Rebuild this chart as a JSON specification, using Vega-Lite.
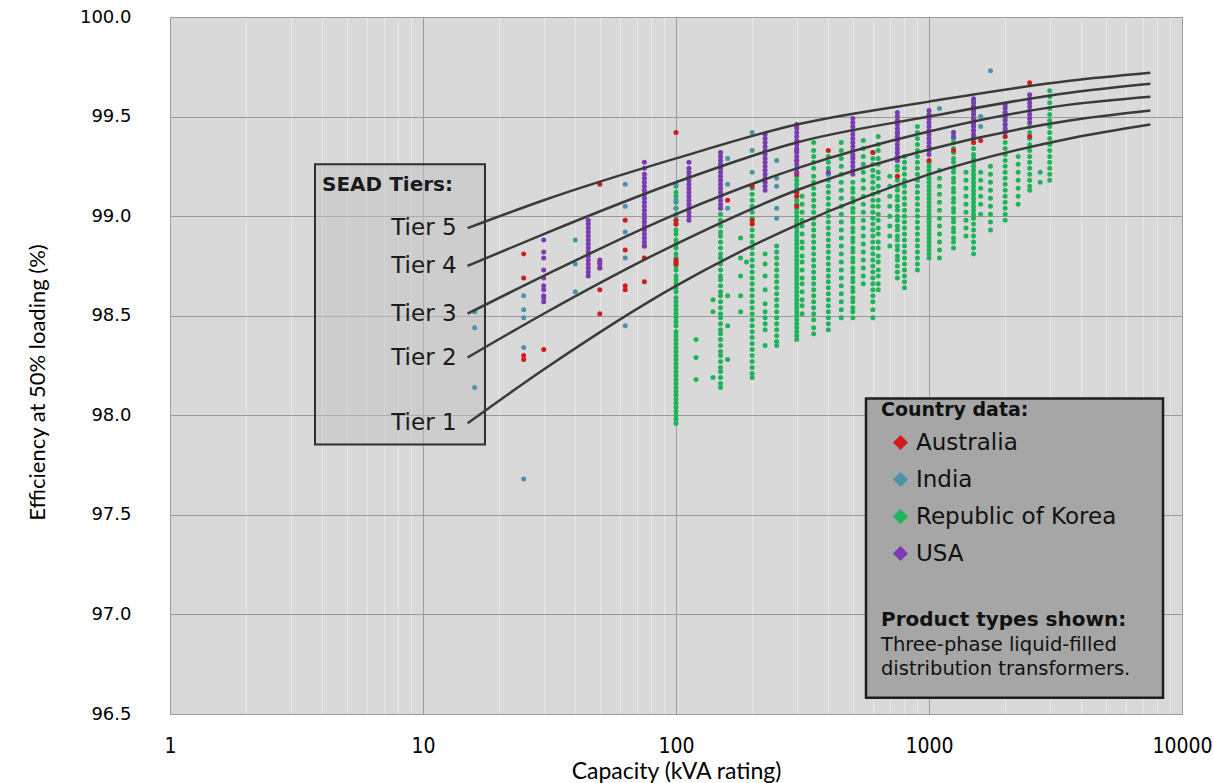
{
  "$schema": "https://vega.github.io/schema/vega-lite/v6.json",
  "width": 1012,
  "height": 697,
  "autosize": {"type": "none"},
  "padding": {"left": 170, "top": 17, "right": 31, "bottom": 69},
  "background": "#ffffff",
  "config": {
    "view": {"fill": "#d9d9d9", "stroke": "#a0a0a0"},
    "font": "DejaVu Sans"
  },
  "datasets": {
    "countries": [
      {"c": "A", "country": "Australia"},
      {"c": "I", "country": "India"},
      {"c": "K", "country": "Republic of Korea"},
      {"c": "U", "country": "USA"}
    ],
    "tiers": [
      {"tier": "Tier 5", "k": 15, "e": 98.94}, {"tier": "Tier 5", "k": 30, "e": 99.08}, {"tier": "Tier 5", "k": 100, "e": 99.29}, {"tier": "Tier 5", "k": 300, "e": 99.46}, {"tier": "Tier 5", "k": 1000, "e": 99.575}, {"tier": "Tier 5", "k": 3600, "e": 99.68}, {"tier": "Tier 5", "k": 7500, "e": 99.72},
      {"tier": "Tier 4", "k": 15, "e": 98.75}, {"tier": "Tier 4", "k": 30, "e": 98.91}, {"tier": "Tier 4", "k": 100, "e": 99.17}, {"tier": "Tier 4", "k": 300, "e": 99.37}, {"tier": "Tier 4", "k": 1000, "e": 99.50}, {"tier": "Tier 4", "k": 3600, "e": 99.62}, {"tier": "Tier 4", "k": 7500, "e": 99.665},
      {"tier": "Tier 3", "k": 15, "e": 98.51}, {"tier": "Tier 3", "k": 30, "e": 98.70}, {"tier": "Tier 3", "k": 100, "e": 99.01}, {"tier": "Tier 3", "k": 300, "e": 99.24}, {"tier": "Tier 3", "k": 1000, "e": 99.425}, {"tier": "Tier 3", "k": 3600, "e": 99.56}, {"tier": "Tier 3", "k": 7500, "e": 99.60},
      {"tier": "Tier 2", "k": 15, "e": 98.29}, {"tier": "Tier 2", "k": 30, "e": 98.51}, {"tier": "Tier 2", "k": 100, "e": 98.86}, {"tier": "Tier 2", "k": 300, "e": 99.13}, {"tier": "Tier 2", "k": 1000, "e": 99.335}, {"tier": "Tier 2", "k": 3600, "e": 99.48}, {"tier": "Tier 2", "k": 7500, "e": 99.53},
      {"tier": "Tier 1", "k": 15, "e": 97.96}, {"tier": "Tier 1", "k": 30, "e": 98.23}, {"tier": "Tier 1", "k": 100, "e": 98.65}, {"tier": "Tier 1", "k": 300, "e": 98.955}, {"tier": "Tier 1", "k": 1000, "e": 99.21}, {"tier": "Tier 1", "k": 3600, "e": 99.39}, {"tier": "Tier 1", "k": 7500, "e": 99.46}
    ],
    "units": [
      {"c":"K","k":100,"e":99.15},{"c":"K","k":100,"e":99.12},{"c":"K","k":100,"e":99.10},{"c":"K","k":100,"e":99.07},{"c":"K","k":100,"e":99.04},{"c":"K","k":100,"e":99.01},{"c":"K","k":100,"e":98.98},{"c":"K","k":100,"e":98.96},{"c":"K","k":100,"e":98.93},{"c":"K","k":100,"e":98.91},{"c":"K","k":100,"e":98.88},{"c":"K","k":100,"e":98.86},{"c":"K","k":100,"e":98.84},{"c":"K","k":100,"e":98.81},{"c":"K","k":100,"e":98.79},{"c":"K","k":100,"e":98.77},{"c":"K","k":100,"e":98.75},{"c":"K","k":100,"e":98.73},{"c":"K","k":100,"e":98.70},{"c":"K","k":100,"e":98.68},{"c":"K","k":100,"e":98.66},{"c":"K","k":100,"e":98.64},{"c":"K","k":100,"e":98.62},{"c":"K","k":100,"e":98.59},{"c":"K","k":100,"e":98.57},{"c":"K","k":100,"e":98.55},{"c":"K","k":100,"e":98.53},{"c":"K","k":100,"e":98.51},{"c":"K","k":100,"e":98.49},{"c":"K","k":100,"e":98.47},{"c":"K","k":100,"e":98.45},{"c":"K","k":100,"e":98.42},{"c":"K","k":100,"e":98.40},{"c":"K","k":100,"e":98.38},{"c":"K","k":100,"e":98.36},{"c":"K","k":100,"e":98.34},{"c":"K","k":100,"e":98.32},{"c":"K","k":100,"e":98.30},{"c":"K","k":100,"e":98.28},{"c":"K","k":100,"e":98.26},{"c":"K","k":100,"e":98.24},{"c":"K","k":100,"e":98.22},{"c":"K","k":100,"e":98.20},{"c":"K","k":100,"e":98.18},{"c":"K","k":100,"e":98.16},{"c":"K","k":100,"e":98.14},{"c":"K","k":100,"e":98.12},{"c":"K","k":100,"e":98.10},{"c":"K","k":100,"e":98.08},{"c":"K","k":100,"e":98.06},{"c":"K","k":100,"e":98.04},{"c":"K","k":100,"e":98.02},{"c":"K","k":100,"e":98.00},{"c":"K","k":100,"e":97.98},{"c":"K","k":100,"e":97.96},
      {"c":"K","k":120,"e":98.38},{"c":"K","k":120,"e":98.29},{"c":"K","k":120,"e":98.18},
      {"c":"K","k":140,"e":98.58},{"c":"K","k":140,"e":98.52},{"c":"K","k":140,"e":98.19},
      {"c":"K","k":150,"e":99.04},{"c":"K","k":150,"e":99.01},{"c":"K","k":150,"e":98.98},{"c":"K","k":150,"e":98.95},{"c":"K","k":150,"e":98.92},{"c":"K","k":150,"e":98.90},{"c":"K","k":150,"e":98.87},{"c":"K","k":150,"e":98.84},{"c":"K","k":150,"e":98.81},{"c":"K","k":150,"e":98.79},{"c":"K","k":150,"e":98.76},{"c":"K","k":150,"e":98.73},{"c":"K","k":150,"e":98.70},{"c":"K","k":150,"e":98.68},{"c":"K","k":150,"e":98.65},{"c":"K","k":150,"e":98.62},{"c":"K","k":150,"e":98.60},{"c":"K","k":150,"e":98.57},{"c":"K","k":150,"e":98.54},{"c":"K","k":150,"e":98.51},{"c":"K","k":150,"e":98.49},{"c":"K","k":150,"e":98.46},{"c":"K","k":150,"e":98.43},{"c":"K","k":150,"e":98.41},{"c":"K","k":150,"e":98.38},{"c":"K","k":150,"e":98.35},{"c":"K","k":150,"e":98.32},{"c":"K","k":150,"e":98.30},{"c":"K","k":150,"e":98.27},{"c":"K","k":150,"e":98.24},{"c":"K","k":150,"e":98.22},{"c":"K","k":150,"e":98.19},{"c":"K","k":150,"e":98.16},{"c":"K","k":150,"e":98.14},
      {"c":"K","k":160,"e":98.60},{"c":"K","k":160,"e":98.45},{"c":"K","k":160,"e":98.28},
      {"c":"K","k":180,"e":98.89},{"c":"K","k":180,"e":98.79},{"c":"K","k":180,"e":98.70},{"c":"K","k":180,"e":98.60},{"c":"K","k":180,"e":98.52},
      {"c":"K","k":190,"e":98.77},
      {"c":"K","k":200,"e":99.14},{"c":"K","k":200,"e":99.11},{"c":"K","k":200,"e":99.08},{"c":"K","k":200,"e":99.05},{"c":"K","k":200,"e":99.02},{"c":"K","k":200,"e":98.99},{"c":"K","k":200,"e":98.96},{"c":"K","k":200,"e":98.93},{"c":"K","k":200,"e":98.90},{"c":"K","k":200,"e":98.87},{"c":"K","k":200,"e":98.84},{"c":"K","k":200,"e":98.81},{"c":"K","k":200,"e":98.78},{"c":"K","k":200,"e":98.75},{"c":"K","k":200,"e":98.72},{"c":"K","k":200,"e":98.69},{"c":"K","k":200,"e":98.66},{"c":"K","k":200,"e":98.63},{"c":"K","k":200,"e":98.60},{"c":"K","k":200,"e":98.57},{"c":"K","k":200,"e":98.54},{"c":"K","k":200,"e":98.51},{"c":"K","k":200,"e":98.48},{"c":"K","k":200,"e":98.45},{"c":"K","k":200,"e":98.42},{"c":"K","k":200,"e":98.39},{"c":"K","k":200,"e":98.36},{"c":"K","k":200,"e":98.33},{"c":"K","k":200,"e":98.30},{"c":"K","k":200,"e":98.27},{"c":"K","k":200,"e":98.24},{"c":"K","k":200,"e":98.21},{"c":"K","k":200,"e":98.19},
      {"c":"K","k":225,"e":98.81},{"c":"K","k":225,"e":98.76},{"c":"K","k":225,"e":98.70},{"c":"K","k":225,"e":98.63},{"c":"K","k":225,"e":98.56},{"c":"K","k":225,"e":98.52},{"c":"K","k":225,"e":98.49},{"c":"K","k":225,"e":98.46},{"c":"K","k":225,"e":98.43},{"c":"K","k":225,"e":98.35},
      {"c":"K","k":250,"e":98.85},{"c":"K","k":250,"e":98.82},{"c":"K","k":250,"e":98.79},{"c":"K","k":250,"e":98.76},{"c":"K","k":250,"e":98.73},{"c":"K","k":250,"e":98.70},{"c":"K","k":250,"e":98.67},{"c":"K","k":250,"e":98.64},{"c":"K","k":250,"e":98.61},{"c":"K","k":250,"e":98.58},{"c":"K","k":250,"e":98.55},{"c":"K","k":250,"e":98.52},{"c":"K","k":250,"e":98.49},{"c":"K","k":250,"e":98.46},{"c":"K","k":250,"e":98.43},{"c":"K","k":250,"e":98.40},{"c":"K","k":250,"e":98.37},{"c":"K","k":250,"e":98.35},
      {"c":"K","k":300,"e":99.20},{"c":"K","k":300,"e":99.18},{"c":"K","k":300,"e":99.16},{"c":"K","k":300,"e":99.14},{"c":"K","k":300,"e":99.12},{"c":"K","k":300,"e":99.10},{"c":"K","k":300,"e":99.08},{"c":"K","k":300,"e":99.06},{"c":"K","k":300,"e":99.04},{"c":"K","k":300,"e":99.02},{"c":"K","k":300,"e":99.00},{"c":"K","k":300,"e":98.98},{"c":"K","k":300,"e":98.96},{"c":"K","k":300,"e":98.94},{"c":"K","k":300,"e":98.92},{"c":"K","k":300,"e":98.90},{"c":"K","k":300,"e":98.88},{"c":"K","k":300,"e":98.86},{"c":"K","k":300,"e":98.84},{"c":"K","k":300,"e":98.82},{"c":"K","k":300,"e":98.80},{"c":"K","k":300,"e":98.78},{"c":"K","k":300,"e":98.76},{"c":"K","k":300,"e":98.74},{"c":"K","k":300,"e":98.72},{"c":"K","k":300,"e":98.70},{"c":"K","k":300,"e":98.68},{"c":"K","k":300,"e":98.66},{"c":"K","k":300,"e":98.64},{"c":"K","k":300,"e":98.62},{"c":"K","k":300,"e":98.60},{"c":"K","k":300,"e":98.58},{"c":"K","k":300,"e":98.56},{"c":"K","k":300,"e":98.54},{"c":"K","k":300,"e":98.52},{"c":"K","k":300,"e":98.50},{"c":"K","k":300,"e":98.48},{"c":"K","k":300,"e":98.46},{"c":"K","k":300,"e":98.44},{"c":"K","k":300,"e":98.42},{"c":"K","k":300,"e":98.40},{"c":"K","k":300,"e":98.38},
      {"c":"K","k":315,"e":99.10},{"c":"K","k":315,"e":99.06},{"c":"K","k":315,"e":99.02},{"c":"K","k":315,"e":98.98},{"c":"K","k":315,"e":98.95},{"c":"K","k":315,"e":98.91},{"c":"K","k":315,"e":98.87},{"c":"K","k":315,"e":98.84},{"c":"K","k":315,"e":98.80},{"c":"K","k":315,"e":98.77},{"c":"K","k":315,"e":98.73},{"c":"K","k":315,"e":98.69},{"c":"K","k":315,"e":98.66},{"c":"K","k":315,"e":98.62},{"c":"K","k":315,"e":98.58},{"c":"K","k":315,"e":98.55},{"c":"K","k":315,"e":98.51},
      {"c":"K","k":350,"e":99.37},{"c":"K","k":350,"e":99.33},{"c":"K","k":350,"e":99.30},{"c":"K","k":350,"e":99.27},{"c":"K","k":350,"e":99.24},{"c":"K","k":350,"e":99.20},{"c":"K","k":350,"e":99.17},{"c":"K","k":350,"e":99.14},{"c":"K","k":350,"e":99.11},{"c":"K","k":350,"e":99.08},{"c":"K","k":350,"e":99.05},{"c":"K","k":350,"e":99.02},{"c":"K","k":350,"e":98.99},{"c":"K","k":350,"e":98.96},{"c":"K","k":350,"e":98.93},{"c":"K","k":350,"e":98.90},{"c":"K","k":350,"e":98.87},{"c":"K","k":350,"e":98.84},{"c":"K","k":350,"e":98.81},{"c":"K","k":350,"e":98.78},{"c":"K","k":350,"e":98.75},{"c":"K","k":350,"e":98.72},{"c":"K","k":350,"e":98.69},{"c":"K","k":350,"e":98.66},{"c":"K","k":350,"e":98.63},{"c":"K","k":350,"e":98.60},{"c":"K","k":350,"e":98.57},{"c":"K","k":350,"e":98.54},{"c":"K","k":350,"e":98.51},{"c":"K","k":350,"e":98.48},{"c":"K","k":350,"e":98.44},{"c":"K","k":350,"e":98.41},
      {"c":"K","k":400,"e":99.30},{"c":"K","k":400,"e":99.27},{"c":"K","k":400,"e":99.24},{"c":"K","k":400,"e":99.21},{"c":"K","k":400,"e":99.18},{"c":"K","k":400,"e":99.15},{"c":"K","k":400,"e":99.12},{"c":"K","k":400,"e":99.09},{"c":"K","k":400,"e":99.06},{"c":"K","k":400,"e":99.03},{"c":"K","k":400,"e":99.00},{"c":"K","k":400,"e":98.97},{"c":"K","k":400,"e":98.94},{"c":"K","k":400,"e":98.91},{"c":"K","k":400,"e":98.88},{"c":"K","k":400,"e":98.85},{"c":"K","k":400,"e":98.82},{"c":"K","k":400,"e":98.79},{"c":"K","k":400,"e":98.76},{"c":"K","k":400,"e":98.73},{"c":"K","k":400,"e":98.70},{"c":"K","k":400,"e":98.67},{"c":"K","k":400,"e":98.64},{"c":"K","k":400,"e":98.61},{"c":"K","k":400,"e":98.58},{"c":"K","k":400,"e":98.55},{"c":"K","k":400,"e":98.52},{"c":"K","k":400,"e":98.49},{"c":"K","k":400,"e":98.46},{"c":"K","k":400,"e":98.43},
      {"c":"K","k":450,"e":99.37},{"c":"K","k":450,"e":99.33},{"c":"K","k":450,"e":99.29},{"c":"K","k":450,"e":99.25},{"c":"K","k":450,"e":99.21},{"c":"K","k":450,"e":99.17},{"c":"K","k":450,"e":99.13},{"c":"K","k":450,"e":99.09},{"c":"K","k":450,"e":99.05},{"c":"K","k":450,"e":99.01},{"c":"K","k":450,"e":98.97},{"c":"K","k":450,"e":98.93},{"c":"K","k":450,"e":98.89},{"c":"K","k":450,"e":98.85},{"c":"K","k":450,"e":98.81},{"c":"K","k":450,"e":98.77},{"c":"K","k":450,"e":98.73},{"c":"K","k":450,"e":98.69},{"c":"K","k":450,"e":98.65},{"c":"K","k":450,"e":98.61},{"c":"K","k":450,"e":98.57},{"c":"K","k":450,"e":98.53},{"c":"K","k":450,"e":98.49},
      {"c":"K","k":500,"e":99.17},{"c":"K","k":500,"e":99.14},{"c":"K","k":500,"e":99.12},{"c":"K","k":500,"e":99.09},{"c":"K","k":500,"e":99.07},{"c":"K","k":500,"e":99.04},{"c":"K","k":500,"e":99.02},{"c":"K","k":500,"e":98.99},{"c":"K","k":500,"e":98.97},{"c":"K","k":500,"e":98.94},{"c":"K","k":500,"e":98.92},{"c":"K","k":500,"e":98.89},{"c":"K","k":500,"e":98.87},{"c":"K","k":500,"e":98.84},{"c":"K","k":500,"e":98.82},{"c":"K","k":500,"e":98.79},{"c":"K","k":500,"e":98.77},{"c":"K","k":500,"e":98.74},{"c":"K","k":500,"e":98.72},{"c":"K","k":500,"e":98.69},{"c":"K","k":500,"e":98.67},{"c":"K","k":500,"e":98.64},{"c":"K","k":500,"e":98.62},{"c":"K","k":500,"e":98.59},{"c":"K","k":500,"e":98.57},{"c":"K","k":500,"e":98.54},{"c":"K","k":500,"e":98.52},{"c":"K","k":500,"e":98.49},
      {"c":"K","k":550,"e":99.38},{"c":"K","k":550,"e":99.34},{"c":"K","k":550,"e":99.30},{"c":"K","k":550,"e":99.26},{"c":"K","k":550,"e":99.22},{"c":"K","k":550,"e":99.18},{"c":"K","k":550,"e":99.14},{"c":"K","k":550,"e":99.10},{"c":"K","k":550,"e":99.06},{"c":"K","k":550,"e":99.02},{"c":"K","k":550,"e":98.98},{"c":"K","k":550,"e":98.94},{"c":"K","k":550,"e":98.90},{"c":"K","k":550,"e":98.86},{"c":"K","k":550,"e":98.82},{"c":"K","k":550,"e":98.78},{"c":"K","k":550,"e":98.74},{"c":"K","k":550,"e":98.70},{"c":"K","k":550,"e":98.66},
      {"c":"K","k":600,"e":99.32},{"c":"K","k":600,"e":99.29},{"c":"K","k":600,"e":99.26},{"c":"K","k":600,"e":99.23},{"c":"K","k":600,"e":99.20},{"c":"K","k":600,"e":99.17},{"c":"K","k":600,"e":99.14},{"c":"K","k":600,"e":99.11},{"c":"K","k":600,"e":99.08},{"c":"K","k":600,"e":99.05},{"c":"K","k":600,"e":99.02},{"c":"K","k":600,"e":98.99},{"c":"K","k":600,"e":98.96},{"c":"K","k":600,"e":98.93},{"c":"K","k":600,"e":98.90},{"c":"K","k":600,"e":98.87},{"c":"K","k":600,"e":98.84},{"c":"K","k":600,"e":98.81},{"c":"K","k":600,"e":98.78},{"c":"K","k":600,"e":98.75},{"c":"K","k":600,"e":98.72},{"c":"K","k":600,"e":98.69},{"c":"K","k":600,"e":98.66},{"c":"K","k":600,"e":98.63},{"c":"K","k":600,"e":98.60},{"c":"K","k":600,"e":98.57},{"c":"K","k":600,"e":98.53},{"c":"K","k":600,"e":98.49},
      {"c":"K","k":630,"e":99.40},{"c":"K","k":630,"e":99.36},{"c":"K","k":630,"e":99.33},{"c":"K","k":630,"e":99.29},{"c":"K","k":630,"e":99.26},{"c":"K","k":630,"e":99.22},{"c":"K","k":630,"e":99.19},{"c":"K","k":630,"e":99.15},{"c":"K","k":630,"e":99.12},{"c":"K","k":630,"e":99.08},{"c":"K","k":630,"e":99.05},{"c":"K","k":630,"e":99.01},{"c":"K","k":630,"e":98.98},{"c":"K","k":630,"e":98.94},{"c":"K","k":630,"e":98.91},{"c":"K","k":630,"e":98.87},{"c":"K","k":630,"e":98.84},{"c":"K","k":630,"e":98.80},{"c":"K","k":630,"e":98.77},{"c":"K","k":630,"e":98.73},{"c":"K","k":630,"e":98.70},{"c":"K","k":630,"e":98.66},{"c":"K","k":630,"e":98.63},
      {"c":"K","k":700,"e":99.20},{"c":"K","k":700,"e":99.15},{"c":"K","k":700,"e":99.10},{"c":"K","k":700,"e":99.05},{"c":"K","k":700,"e":99.00},{"c":"K","k":700,"e":98.95},{"c":"K","k":700,"e":98.90},{"c":"K","k":700,"e":98.85},
      {"c":"K","k":750,"e":99.28},{"c":"K","k":750,"e":99.25},{"c":"K","k":750,"e":99.23},{"c":"K","k":750,"e":99.20},{"c":"K","k":750,"e":99.18},{"c":"K","k":750,"e":99.15},{"c":"K","k":750,"e":99.13},{"c":"K","k":750,"e":99.10},{"c":"K","k":750,"e":99.08},{"c":"K","k":750,"e":99.05},{"c":"K","k":750,"e":99.03},{"c":"K","k":750,"e":99.00},{"c":"K","k":750,"e":98.98},{"c":"K","k":750,"e":98.95},{"c":"K","k":750,"e":98.93},{"c":"K","k":750,"e":98.90},{"c":"K","k":750,"e":98.88},{"c":"K","k":750,"e":98.85},{"c":"K","k":750,"e":98.83},{"c":"K","k":750,"e":98.80},{"c":"K","k":750,"e":98.78},{"c":"K","k":750,"e":98.75},{"c":"K","k":750,"e":98.72},{"c":"K","k":750,"e":98.69},
      {"c":"K","k":800,"e":99.30},{"c":"K","k":800,"e":99.27},{"c":"K","k":800,"e":99.24},{"c":"K","k":800,"e":99.21},{"c":"K","k":800,"e":99.18},{"c":"K","k":800,"e":99.15},{"c":"K","k":800,"e":99.12},{"c":"K","k":800,"e":99.09},{"c":"K","k":800,"e":99.06},{"c":"K","k":800,"e":99.03},{"c":"K","k":800,"e":99.00},{"c":"K","k":800,"e":98.97},{"c":"K","k":800,"e":98.94},{"c":"K","k":800,"e":98.91},{"c":"K","k":800,"e":98.88},{"c":"K","k":800,"e":98.85},{"c":"K","k":800,"e":98.82},{"c":"K","k":800,"e":98.79},{"c":"K","k":800,"e":98.76},{"c":"K","k":800,"e":98.73},{"c":"K","k":800,"e":98.70},{"c":"K","k":800,"e":98.67},{"c":"K","k":800,"e":98.64},
      {"c":"K","k":900,"e":99.45},{"c":"K","k":900,"e":99.42},{"c":"K","k":900,"e":99.39},{"c":"K","k":900,"e":99.36},{"c":"K","k":900,"e":99.33},{"c":"K","k":900,"e":99.30},{"c":"K","k":900,"e":99.27},{"c":"K","k":900,"e":99.24},{"c":"K","k":900,"e":99.21},{"c":"K","k":900,"e":99.18},{"c":"K","k":900,"e":99.15},{"c":"K","k":900,"e":99.12},{"c":"K","k":900,"e":99.09},{"c":"K","k":900,"e":99.06},{"c":"K","k":900,"e":99.03},{"c":"K","k":900,"e":99.00},{"c":"K","k":900,"e":98.97},{"c":"K","k":900,"e":98.94},{"c":"K","k":900,"e":98.91},{"c":"K","k":900,"e":98.88},{"c":"K","k":900,"e":98.85},{"c":"K","k":900,"e":98.82},{"c":"K","k":900,"e":98.79},{"c":"K","k":900,"e":98.76},{"c":"K","k":900,"e":98.73},
      {"c":"K","k":1000,"e":99.27},{"c":"K","k":1000,"e":99.25},{"c":"K","k":1000,"e":99.23},{"c":"K","k":1000,"e":99.21},{"c":"K","k":1000,"e":99.19},{"c":"K","k":1000,"e":99.17},{"c":"K","k":1000,"e":99.15},{"c":"K","k":1000,"e":99.13},{"c":"K","k":1000,"e":99.11},{"c":"K","k":1000,"e":99.09},{"c":"K","k":1000,"e":99.07},{"c":"K","k":1000,"e":99.05},{"c":"K","k":1000,"e":99.03},{"c":"K","k":1000,"e":99.01},{"c":"K","k":1000,"e":98.99},{"c":"K","k":1000,"e":98.97},{"c":"K","k":1000,"e":98.95},{"c":"K","k":1000,"e":98.93},{"c":"K","k":1000,"e":98.91},{"c":"K","k":1000,"e":98.89},{"c":"K","k":1000,"e":98.87},{"c":"K","k":1000,"e":98.85},{"c":"K","k":1000,"e":98.83},{"c":"K","k":1000,"e":98.81},{"c":"K","k":1000,"e":98.79},
      {"c":"K","k":1100,"e":99.23},{"c":"K","k":1100,"e":99.19},{"c":"K","k":1100,"e":99.15},{"c":"K","k":1100,"e":99.11},{"c":"K","k":1100,"e":99.07},{"c":"K","k":1100,"e":99.03},{"c":"K","k":1100,"e":98.99},{"c":"K","k":1100,"e":98.95},{"c":"K","k":1100,"e":98.91},{"c":"K","k":1100,"e":98.87},{"c":"K","k":1100,"e":98.83},{"c":"K","k":1100,"e":98.79},
      {"c":"K","k":1250,"e":99.42},{"c":"K","k":1250,"e":99.39},{"c":"K","k":1250,"e":99.37},{"c":"K","k":1250,"e":99.34},{"c":"K","k":1250,"e":99.32},{"c":"K","k":1250,"e":99.29},{"c":"K","k":1250,"e":99.27},{"c":"K","k":1250,"e":99.24},{"c":"K","k":1250,"e":99.22},{"c":"K","k":1250,"e":99.19},{"c":"K","k":1250,"e":99.17},{"c":"K","k":1250,"e":99.14},{"c":"K","k":1250,"e":99.12},{"c":"K","k":1250,"e":99.09},{"c":"K","k":1250,"e":99.07},{"c":"K","k":1250,"e":99.04},{"c":"K","k":1250,"e":99.02},{"c":"K","k":1250,"e":98.99},{"c":"K","k":1250,"e":98.97},{"c":"K","k":1250,"e":98.94},{"c":"K","k":1250,"e":98.92},{"c":"K","k":1250,"e":98.89},{"c":"K","k":1250,"e":98.87},{"c":"K","k":1250,"e":98.84},
      {"c":"K","k":1400,"e":99.22},{"c":"K","k":1400,"e":99.18},{"c":"K","k":1400,"e":99.14},{"c":"K","k":1400,"e":99.10},{"c":"K","k":1400,"e":99.06},{"c":"K","k":1400,"e":99.02},{"c":"K","k":1400,"e":98.98},{"c":"K","k":1400,"e":98.94},{"c":"K","k":1400,"e":98.90},
      {"c":"K","k":1500,"e":99.58},{"c":"K","k":1500,"e":99.55},{"c":"K","k":1500,"e":99.52},{"c":"K","k":1500,"e":99.49},{"c":"K","k":1500,"e":99.46},{"c":"K","k":1500,"e":99.43},{"c":"K","k":1500,"e":99.40},{"c":"K","k":1500,"e":99.37},{"c":"K","k":1500,"e":99.34},{"c":"K","k":1500,"e":99.31},{"c":"K","k":1500,"e":99.29},{"c":"K","k":1500,"e":99.27},{"c":"K","k":1500,"e":99.25},{"c":"K","k":1500,"e":99.23},{"c":"K","k":1500,"e":99.21},{"c":"K","k":1500,"e":99.19},{"c":"K","k":1500,"e":99.17},{"c":"K","k":1500,"e":99.15},{"c":"K","k":1500,"e":99.13},{"c":"K","k":1500,"e":99.11},{"c":"K","k":1500,"e":99.09},{"c":"K","k":1500,"e":99.07},{"c":"K","k":1500,"e":99.05},{"c":"K","k":1500,"e":99.03},{"c":"K","k":1500,"e":99.01},{"c":"K","k":1500,"e":98.99},{"c":"K","k":1500,"e":98.96},{"c":"K","k":1500,"e":98.93},{"c":"K","k":1500,"e":98.90},{"c":"K","k":1500,"e":98.87},{"c":"K","k":1500,"e":98.84},{"c":"K","k":1500,"e":98.81},
      {"c":"K","k":1600,"e":99.22},{"c":"K","k":1600,"e":99.18},{"c":"K","k":1600,"e":99.14},{"c":"K","k":1600,"e":99.10},{"c":"K","k":1600,"e":99.06},{"c":"K","k":1600,"e":99.01},
      {"c":"K","k":1750,"e":99.25},{"c":"K","k":1750,"e":99.21},{"c":"K","k":1750,"e":99.17},{"c":"K","k":1750,"e":99.13},{"c":"K","k":1750,"e":99.09},{"c":"K","k":1750,"e":99.05},{"c":"K","k":1750,"e":99.01},{"c":"K","k":1750,"e":98.97},{"c":"K","k":1750,"e":98.93},
      {"c":"K","k":2000,"e":99.55},{"c":"K","k":2000,"e":99.52},{"c":"K","k":2000,"e":99.49},{"c":"K","k":2000,"e":99.46},{"c":"K","k":2000,"e":99.43},{"c":"K","k":2000,"e":99.40},{"c":"K","k":2000,"e":99.37},{"c":"K","k":2000,"e":99.34},{"c":"K","k":2000,"e":99.31},{"c":"K","k":2000,"e":99.28},{"c":"K","k":2000,"e":99.25},{"c":"K","k":2000,"e":99.22},{"c":"K","k":2000,"e":99.19},{"c":"K","k":2000,"e":99.16},{"c":"K","k":2000,"e":99.13},{"c":"K","k":2000,"e":99.10},{"c":"K","k":2000,"e":99.07},{"c":"K","k":2000,"e":99.04},{"c":"K","k":2000,"e":99.01},{"c":"K","k":2000,"e":98.98},
      {"c":"K","k":2250,"e":99.30},{"c":"K","k":2250,"e":99.26},{"c":"K","k":2250,"e":99.22},{"c":"K","k":2250,"e":99.18},{"c":"K","k":2250,"e":99.14},{"c":"K","k":2250,"e":99.10},{"c":"K","k":2250,"e":99.06},
      {"c":"K","k":2500,"e":99.45},{"c":"K","k":2500,"e":99.42},{"c":"K","k":2500,"e":99.39},{"c":"K","k":2500,"e":99.36},{"c":"K","k":2500,"e":99.33},{"c":"K","k":2500,"e":99.30},{"c":"K","k":2500,"e":99.27},{"c":"K","k":2500,"e":99.24},{"c":"K","k":2500,"e":99.21},{"c":"K","k":2500,"e":99.18},{"c":"K","k":2500,"e":99.15},{"c":"K","k":2500,"e":99.13},
      {"c":"K","k":2750,"e":99.22},{"c":"K","k":2750,"e":99.17},
      {"c":"K","k":3000,"e":99.63},{"c":"K","k":3000,"e":99.60},{"c":"K","k":3000,"e":99.57},{"c":"K","k":3000,"e":99.54},{"c":"K","k":3000,"e":99.51},{"c":"K","k":3000,"e":99.48},{"c":"K","k":3000,"e":99.45},{"c":"K","k":3000,"e":99.42},{"c":"K","k":3000,"e":99.39},{"c":"K","k":3000,"e":99.36},{"c":"K","k":3000,"e":99.33},{"c":"K","k":3000,"e":99.30},{"c":"K","k":3000,"e":99.27},{"c":"K","k":3000,"e":99.24},{"c":"K","k":3000,"e":99.21},{"c":"K","k":3000,"e":99.18},
      {"c":"I","k":16,"e":98.52},{"c":"I","k":16,"e":98.44},{"c":"I","k":16,"e":98.14},
      {"c":"I","k":25,"e":98.60},{"c":"I","k":25,"e":98.53},{"c":"I","k":25,"e":98.49},{"c":"I","k":25,"e":98.34},{"c":"I","k":25,"e":97.68},
      {"c":"I","k":40,"e":98.88},{"c":"I","k":40,"e":98.76},{"c":"I","k":40,"e":98.62},
      {"c":"I","k":63,"e":99.16},{"c":"I","k":63,"e":99.05},{"c":"I","k":63,"e":98.92},{"c":"I","k":63,"e":98.79},{"c":"I","k":63,"e":98.45},
      {"c":"I","k":100,"e":99.16},{"c":"I","k":100,"e":99.08},{"c":"I","k":100,"e":99.04},{"c":"I","k":100,"e":99.00},
      {"c":"I","k":160,"e":99.29},{"c":"I","k":160,"e":99.16},{"c":"I","k":160,"e":99.04},
      {"c":"I","k":200,"e":99.42},{"c":"I","k":200,"e":99.33},{"c":"I","k":200,"e":99.22},
      {"c":"I","k":250,"e":99.28},{"c":"I","k":250,"e":99.19},{"c":"I","k":250,"e":99.15},{"c":"I","k":250,"e":99.04},{"c":"I","k":250,"e":98.99},
      {"c":"I","k":400,"e":99.21},{"c":"I","k":500,"e":99.30},{"c":"I","k":1100,"e":99.54},
      {"c":"I","k":1600,"e":99.50},{"c":"I","k":1600,"e":99.45},{"c":"I","k":1750,"e":99.73},
      {"c":"A","k":25,"e":98.81},{"c":"A","k":25,"e":98.69},{"c":"A","k":25,"e":98.30},{"c":"A","k":25,"e":98.28},
      {"c":"A","k":30,"e":98.33},
      {"c":"A","k":50,"e":99.16},{"c":"A","k":50,"e":98.77},{"c":"A","k":50,"e":98.74},{"c":"A","k":50,"e":98.63},{"c":"A","k":50,"e":98.51},
      {"c":"A","k":63,"e":98.98},{"c":"A","k":63,"e":98.83},{"c":"A","k":63,"e":98.65},{"c":"A","k":63,"e":98.63},
      {"c":"A","k":75,"e":98.85},{"c":"A","k":75,"e":98.79},{"c":"A","k":75,"e":98.67},
      {"c":"A","k":100,"e":99.42},{"c":"A","k":100,"e":98.98},{"c":"A","k":100,"e":98.96},{"c":"A","k":100,"e":98.78},{"c":"A","k":100,"e":98.77},{"c":"A","k":100,"e":98.76},
      {"c":"A","k":160,"e":99.08},
      {"c":"A","k":200,"e":99.15},{"c":"A","k":200,"e":98.98},{"c":"A","k":200,"e":98.96},
      {"c":"A","k":300,"e":99.45},{"c":"A","k":300,"e":99.33},{"c":"A","k":300,"e":99.28},{"c":"A","k":300,"e":99.21},{"c":"A","k":300,"e":99.12},{"c":"A","k":300,"e":99.10},{"c":"A","k":300,"e":99.05},
      {"c":"A","k":400,"e":99.33},{"c":"A","k":600,"e":99.32},
      {"c":"A","k":750,"e":99.42},{"c":"A","k":750,"e":99.20},
      {"c":"A","k":1000,"e":99.28},{"c":"A","k":1250,"e":99.33},{"c":"A","k":1500,"e":99.37},{"c":"A","k":1600,"e":99.38},{"c":"A","k":2000,"e":99.40},
      {"c":"A","k":2500,"e":99.67},{"c":"A","k":2500,"e":99.40},
      {"c":"U","k":30,"e":98.88},{"c":"U","k":30,"e":98.82},{"c":"U","k":30,"e":98.79},{"c":"U","k":30,"e":98.73},{"c":"U","k":30,"e":98.69},{"c":"U","k":30,"e":98.65},{"c":"U","k":30,"e":98.63},{"c":"U","k":30,"e":98.60},{"c":"U","k":30,"e":98.59},{"c":"U","k":30,"e":98.57},
      {"c":"U","k":45,"e":98.98},{"c":"U","k":45,"e":98.96},{"c":"U","k":45,"e":98.94},{"c":"U","k":45,"e":98.92},{"c":"U","k":45,"e":98.90},{"c":"U","k":45,"e":98.88},{"c":"U","k":45,"e":98.86},{"c":"U","k":45,"e":98.84},{"c":"U","k":45,"e":98.82},{"c":"U","k":45,"e":98.80},{"c":"U","k":45,"e":98.78},{"c":"U","k":45,"e":98.76},{"c":"U","k":45,"e":98.74},{"c":"U","k":45,"e":98.72},{"c":"U","k":45,"e":98.70},
      {"c":"U","k":50,"e":98.78},{"c":"U","k":50,"e":98.76},{"c":"U","k":50,"e":98.74},
      {"c":"U","k":75,"e":99.27},{"c":"U","k":75,"e":99.24},{"c":"U","k":75,"e":99.21},{"c":"U","k":75,"e":99.19},{"c":"U","k":75,"e":99.17},{"c":"U","k":75,"e":99.15},{"c":"U","k":75,"e":99.13},{"c":"U","k":75,"e":99.11},{"c":"U","k":75,"e":99.09},{"c":"U","k":75,"e":99.07},{"c":"U","k":75,"e":99.05},{"c":"U","k":75,"e":99.03},{"c":"U","k":75,"e":99.01},{"c":"U","k":75,"e":98.99},{"c":"U","k":75,"e":98.97},{"c":"U","k":75,"e":98.95},{"c":"U","k":75,"e":98.93},{"c":"U","k":75,"e":98.91},{"c":"U","k":75,"e":98.89},{"c":"U","k":75,"e":98.87},{"c":"U","k":75,"e":98.85},
      {"c":"U","k":112.5,"e":99.27},{"c":"U","k":112.5,"e":99.24},{"c":"U","k":112.5,"e":99.22},{"c":"U","k":112.5,"e":99.20},{"c":"U","k":112.5,"e":99.18},{"c":"U","k":112.5,"e":99.16},{"c":"U","k":112.5,"e":99.14},{"c":"U","k":112.5,"e":99.12},{"c":"U","k":112.5,"e":99.10},{"c":"U","k":112.5,"e":99.08},{"c":"U","k":112.5,"e":99.06},{"c":"U","k":112.5,"e":99.04},{"c":"U","k":112.5,"e":99.02},{"c":"U","k":112.5,"e":99.00},{"c":"U","k":112.5,"e":98.98},
      {"c":"U","k":150,"e":99.32},{"c":"U","k":150,"e":99.30},{"c":"U","k":150,"e":99.28},{"c":"U","k":150,"e":99.26},{"c":"U","k":150,"e":99.24},{"c":"U","k":150,"e":99.22},{"c":"U","k":150,"e":99.20},{"c":"U","k":150,"e":99.18},{"c":"U","k":150,"e":99.16},{"c":"U","k":150,"e":99.14},{"c":"U","k":150,"e":99.12},{"c":"U","k":150,"e":99.10},{"c":"U","k":150,"e":99.08},{"c":"U","k":150,"e":99.06},{"c":"U","k":150,"e":99.04},
      {"c":"U","k":225,"e":99.41},{"c":"U","k":225,"e":99.39},{"c":"U","k":225,"e":99.37},{"c":"U","k":225,"e":99.35},{"c":"U","k":225,"e":99.33},{"c":"U","k":225,"e":99.31},{"c":"U","k":225,"e":99.29},{"c":"U","k":225,"e":99.27},{"c":"U","k":225,"e":99.25},{"c":"U","k":225,"e":99.23},{"c":"U","k":225,"e":99.21},{"c":"U","k":225,"e":99.19},{"c":"U","k":225,"e":99.17},{"c":"U","k":225,"e":99.15},{"c":"U","k":225,"e":99.13},
      {"c":"U","k":300,"e":99.46},{"c":"U","k":300,"e":99.44},{"c":"U","k":300,"e":99.42},{"c":"U","k":300,"e":99.40},{"c":"U","k":300,"e":99.38},{"c":"U","k":300,"e":99.36},{"c":"U","k":300,"e":99.34},{"c":"U","k":300,"e":99.32},{"c":"U","k":300,"e":99.30},{"c":"U","k":300,"e":99.28},{"c":"U","k":300,"e":99.26},{"c":"U","k":300,"e":99.24},{"c":"U","k":300,"e":99.22},
      {"c":"U","k":400,"e":99.22},
      {"c":"U","k":500,"e":99.49},{"c":"U","k":500,"e":99.47},{"c":"U","k":500,"e":99.45},{"c":"U","k":500,"e":99.43},{"c":"U","k":500,"e":99.41},{"c":"U","k":500,"e":99.39},{"c":"U","k":500,"e":99.37},{"c":"U","k":500,"e":99.35},{"c":"U","k":500,"e":99.33},{"c":"U","k":500,"e":99.31},{"c":"U","k":500,"e":99.29},{"c":"U","k":500,"e":99.27},{"c":"U","k":500,"e":99.25},{"c":"U","k":500,"e":99.23},{"c":"U","k":500,"e":99.21},
      {"c":"U","k":750,"e":99.52},{"c":"U","k":750,"e":99.50},{"c":"U","k":750,"e":99.48},{"c":"U","k":750,"e":99.46},{"c":"U","k":750,"e":99.44},{"c":"U","k":750,"e":99.42},{"c":"U","k":750,"e":99.40},{"c":"U","k":750,"e":99.38},{"c":"U","k":750,"e":99.36},{"c":"U","k":750,"e":99.34},{"c":"U","k":750,"e":99.32},{"c":"U","k":750,"e":99.30},{"c":"U","k":750,"e":99.28},
      {"c":"U","k":1000,"e":99.53},{"c":"U","k":1000,"e":99.51},{"c":"U","k":1000,"e":99.49},{"c":"U","k":1000,"e":99.47},{"c":"U","k":1000,"e":99.45},{"c":"U","k":1000,"e":99.43},{"c":"U","k":1000,"e":99.41},{"c":"U","k":1000,"e":99.39},{"c":"U","k":1000,"e":99.37},{"c":"U","k":1000,"e":99.35},{"c":"U","k":1000,"e":99.33},{"c":"U","k":1000,"e":99.31},
      {"c":"U","k":1250,"e":99.42},{"c":"U","k":1250,"e":99.40},
      {"c":"U","k":1500,"e":99.59},{"c":"U","k":1500,"e":99.57},{"c":"U","k":1500,"e":99.55},{"c":"U","k":1500,"e":99.53},{"c":"U","k":1500,"e":99.51},{"c":"U","k":1500,"e":99.49},{"c":"U","k":1500,"e":99.47},{"c":"U","k":1500,"e":99.45},{"c":"U","k":1500,"e":99.43},{"c":"U","k":1500,"e":99.41},{"c":"U","k":1500,"e":99.39},
      {"c":"U","k":2000,"e":99.56},{"c":"U","k":2000,"e":99.54},{"c":"U","k":2000,"e":99.52},{"c":"U","k":2000,"e":99.50},{"c":"U","k":2000,"e":99.48},{"c":"U","k":2000,"e":99.46},{"c":"U","k":2000,"e":99.44},{"c":"U","k":2000,"e":99.42},
      {"c":"U","k":2500,"e":99.61},{"c":"U","k":2500,"e":99.59},{"c":"U","k":2500,"e":99.57},{"c":"U","k":2500,"e":99.55},{"c":"U","k":2500,"e":99.53},{"c":"U","k":2500,"e":99.51},{"c":"U","k":2500,"e":99.49},{"c":"U","k":2500,"e":99.47}
    ]
  },
  "layer": [
    {
      "data": {"values": [{}]},
      "mark": {"type": "rect", "fill": "#c2c2c2", "fillOpacity": 0.5, "stroke": "#2e2e2e", "strokeWidth": 2},
      "encoding": {
        "x": {"datum": 3.742, "type": "quantitative"}, "x2": {"datum": 17.58},
        "y": {"datum": 99.261, "type": "quantitative"}, "y2": {"datum": 97.853}
      }
    },
    {
      "data": {"name": "units"},
      "transform": [
        {"lookup": "c", "from": {"data": {"name": "countries"}, "key": "c", "fields": ["country"]}}
      ],
      "mark": {"type": "circle", "size": 25, "opacity": 1},
      "encoding": {
        "x": {
          "field": "k",
          "type": "quantitative",
          "scale": {"type": "log", "domain": [1, 10000], "nice": false},
          "axis": {
            "title": "Capacity (kVA rating)",
            "values": [1,2,3,4,5,6,7,8,9,10,20,30,40,50,60,70,80,90,100,200,300,400,500,600,700,800,900,1000,2000,3000,4000,5000,6000,7000,8000,9000,10000],
            "labelExpr": "indexof([1,10,100,1000,10000], datum.value) >= 0 ? format(datum.value, 'd') : ''",
            "grid": true,
            "gridColor": {"condition": {"test": "indexof([1,10,100,1000,10000], datum.value) >= 0", "value": "#9c9c9c"}, "value": "#e8e8e8"},
            "gridWidth": 1,
            "ticks": false,
            "tickSize": 0,
            "domain": false,
            "labelFlush": false,
            "labelOverlap": false,
            "labelFont": "DejaVu Sans Condensed",
            "labelFontSize": 21,
            "labelColor": "#000000",
            "labelBaseline": "middle",
            "labelPadding": 32,
            "titleFont": "Lato",
            "titleFontSize": 23,
            "titleFontWeight": "normal",
            "titleColor": "#000000",
            "titleBaseline": "middle",
            "titleY": 57
          }
        },
        "y": {
          "field": "e",
          "type": "quantitative",
          "scale": {"domain": [96.5, 100], "zero": false, "nice": false},
          "axis": {
            "title": "Efficiency at 50% loading (%)",
            "values": [96.5, 97, 97.5, 98, 98.5, 99, 99.5, 100],
            "format": ".1f",
            "grid": true,
            "gridColor": "#9a9a9a",
            "gridWidth": 1,
            "ticks": false,
            "tickSize": 0,
            "domain": false,
            "labelFont": "DejaVu Sans",
            "labelFontSize": 18,
            "labelColor": "#000000",
            "labelPadding": 39,
            "titleFont": "Lato",
            "titleFontSize": 22,
            "titleFontWeight": "normal",
            "titleColor": "#000000",
            "titleX": -133,
            "titleY": 365,
            "titleAngle": -90,
            "titleAlign": "center",
            "titleBaseline": "middle"
          }
        },
        "color": {
          "field": "country",
          "type": "nominal",
          "scale": {
            "domain": ["Australia", "India", "Republic of Korea", "USA"],
            "range": ["#d01c1c", "#4b93a9", "#1fb45c", "#7b3bb3"]
          },
          "legend": {
            "title": "Country data:",
            "orient": "none",
            "legendX": 711,
            "legendY": 384,
            "padding": 0,
            "zindex": 1,
            "symbolType": "diamond",
            "symbolSize": 225,
            "symbolStrokeWidth": 0,
            "symbolOpacity": 1,
            "symbolOffset": 8,
            "labelOffset": 4,
            "labelLimit": 0,
            "rowPadding": 13,
            "titlePadding": 11,
            "titleFont": "DejaVu Sans",
            "titleFontSize": 19,
            "titleFontWeight": "bold",
            "titleColor": "#111111",
            "labelFont": "DejaVu Sans",
            "labelFontSize": 23,
            "labelColor": "#111111"
          }
        }
      }
    },
    {
      "data": {"name": "tiers"},
      "mark": {"type": "line", "interpolate": "monotone", "color": "#3a3a3a", "strokeWidth": 2.5},
      "encoding": {
        "x": {"field": "k", "type": "quantitative", "scale": {"type": "log"}},
        "y": {"field": "e", "type": "quantitative"},
        "detail": {"field": "tier"}
      }
    },
    {
      "data": {"name": "tiers"},
      "transform": [{"filter": "datum.k == 15"}],
      "mark": {"type": "text", "align": "right", "baseline": "middle", "dx": -11, "font": "DejaVu Sans", "fontSize": 23, "color": "#1a1a1a"},
      "encoding": {
        "x": {"field": "k", "type": "quantitative", "scale": {"type": "log"}},
        "y": {"field": "e", "type": "quantitative"},
        "text": {"field": "tier"}
      }
    },
    {
      "data": {"values": [{}]},
      "mark": {"type": "text", "align": "left", "baseline": "middle", "font": "DejaVu Sans", "fontSize": 20, "fontWeight": "bold", "color": "#1a1a1a", "text": "SEAD Tiers:"},
      "encoding": {"x": {"datum": 3.99, "type": "quantitative"}, "y": {"datum": 99.155, "type": "quantitative"}}
    },
    {
      "data": {"values": [{}]},
      "mark": {"type": "rect", "fill": "#a6a6a6", "stroke": "#1e1e1e", "strokeWidth": 2.5},
      "encoding": {
        "x": {"datum": 563.6, "type": "quantitative"}, "x2": {"datum": 8414},
        "y": {"datum": 98.084, "type": "quantitative"}, "y2": {"datum": 96.581}
      }
    },
    {
      "data": {"values": [{}]},
      "mark": {"type": "text", "align": "left", "baseline": "middle", "font": "DejaVu Sans", "fontSize": 20, "fontWeight": "bold", "color": "#111111", "text": "Product types shown:"},
      "encoding": {"x": {"datum": 646, "type": "quantitative"}, "y": {"datum": 96.973, "type": "quantitative"}}
    },
    {
      "data": {"values": [{}]},
      "mark": {"type": "text", "align": "left", "baseline": "middle", "font": "DejaVu Sans", "fontSize": 19.5, "lineHeight": 24, "color": "#111111", "text": ["Three-phase liquid-filled", "distribution transformers."]},
      "encoding": {"x": {"datum": 646, "type": "quantitative"}, "y": {"datum": 96.848, "type": "quantitative"}}
    }
  ]
}
